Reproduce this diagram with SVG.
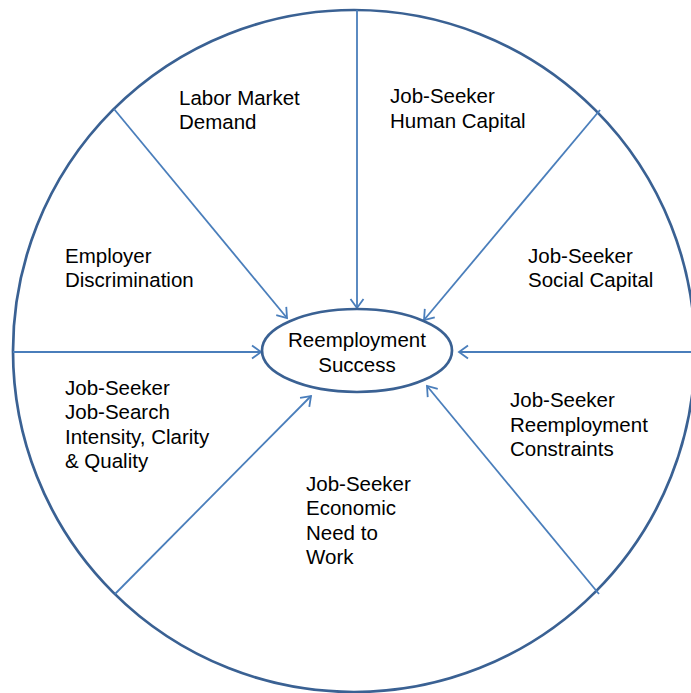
<svg xmlns="http://www.w3.org/2000/svg" width="691" height="693" viewBox="0 0 691 693">
<style>
.lbl{font-family:"Liberation Sans",Arial,sans-serif;font-size:20.5px;fill:#000}
.ring{fill:none;stroke:#3a6193;stroke-width:2.7}
.con{fill:none;stroke:#4a7ebb;stroke-width:1.8;marker-end:url(#arr)}
</style>
<defs>
<marker id="arr" markerUnits="userSpaceOnUse" markerWidth="14" markerHeight="16" viewBox="-12 -8 14 16" refX="0" refY="0" orient="auto">
<path d="M-9,-6.5 L0,0 L-9,6.5" fill="none" stroke="#4a7ebb" stroke-width="1.8"/>
</marker>
</defs>
<rect width="691" height="693" fill="#fff"/>
<g id="outer-circle"><circle class="ring" cx="354" cy="351" r="341"/></g>
<g id="connectors">
<line class="con" x1="357" y1="10" x2="357" y2="308"/>
<line class="con" x1="114" y1="109" x2="287" y2="318"/>
<line class="con" x1="600" y1="110" x2="424" y2="320"/>
<line class="con" x1="13" y1="352" x2="261" y2="352"/>
<line class="con" x1="691" y1="352" x2="459" y2="352"/>
<line class="con" x1="115" y1="594" x2="311" y2="396"/>
<line class="con" x1="599" y1="594" x2="427" y2="386"/>
</g>
<g id="center"><ellipse class="ring" cx="357" cy="350.5" rx="95" ry="41.5" fill="#fff"/>
<text class="lbl" x="357" y="347" text-anchor="middle">Reemployment</text>
<text class="lbl" x="357" y="372" text-anchor="middle">Success</text></g>
<g id="labor-market"><text class="lbl" x="179" y="105">Labor Market</text><text class="lbl" x="179" y="129">Demand</text></g>
<g id="human-capital"><text class="lbl" x="390" y="103">Job-Seeker</text><text class="lbl" x="390" y="128">Human Capital</text></g>
<g id="social-capital"><text class="lbl" x="528" y="263">Job-Seeker</text><text class="lbl" x="528" y="287">Social Capital</text></g>
<g id="discrimination"><text class="lbl" x="65" y="263">Employer</text><text class="lbl" x="65" y="287">Discrimination</text></g>
<g id="job-search"><text class="lbl" x="65" y="395">Job-Seeker</text><text class="lbl" x="65" y="419">Job-Search</text><text class="lbl" x="65" y="444">Intensity, Clarity</text><text class="lbl" x="65" y="468">&amp; Quality</text></g>
<g id="constraints"><text class="lbl" x="510" y="407">Job-Seeker</text><text class="lbl" x="510" y="432">Reemployment</text><text class="lbl" x="510" y="456">Constraints</text></g>
<g id="economic-need"><text class="lbl" x="306" y="491">Job-Seeker</text><text class="lbl" x="306" y="515">Economic</text><text class="lbl" x="306" y="540">Need to</text><text class="lbl" x="306" y="564">Work</text></g>
</svg>
